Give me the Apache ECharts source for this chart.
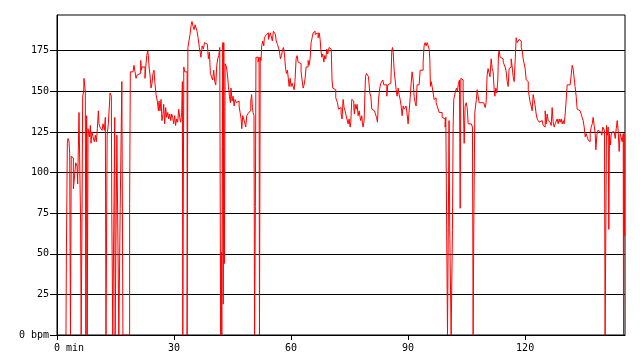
<!DOCTYPE html>
<html>
<head>
<meta charset="utf-8">
<script src="https://cdn.jsdelivr.net/npm/echarts@6/dist/echarts.min.js"></script>
<style>
  html, body { margin: 0; padding: 0; background: #fff; }
  #main { width: 640px; height: 360px; }
</style>
</head>
<body>
<div id="main"></div>
<script>
// heart rate samples: [minute, bpm]
const samples = [
  [2.3,0],[2.4,48],[2.65,118],[2.82,121],[3.08,119],[3.25,112],[3.45,0],[3.65,110],[3.93,109],[4.19,90],
  [4.44,96],[4.79,106],[5.13,104],[5.3,93],[5.47,115],[5.64,137],[6.05,69],[6.2,0],[6.41,73],[6.58,147],
  [6.84,150],[6.92,158],[7.26,150],[7.4,0],[7.6,135],[7.75,0],[7.95,127],[8.12,124],[8.3,122],[8.55,129],
  [8.72,118],[8.97,125],[9.23,122],[9.57,119],[9.83,123],[10.09,119],[10.34,127],[10.6,138],[10.77,130],[11.03,128],
  [11.28,129],[11.54,126],[11.8,130],[12.14,126],[12.39,134],[12.56,0],[12.85,123],[13.16,130],[13.42,141],[13.59,149],
  [13.93,147],[14.05,74],[14.3,0],[14.8,134],[14.9,0],[15.35,123],[15.85,0],[16.2,78],[16.62,156],[16.9,0],
  [18.62,81],[18.8,162],[19.23,162],[19.49,163],[19.74,166],[20.0,162],[20.26,158],[20.51,160],[20.94,161],[21.45,169],
  [21.62,163],[21.8,165],[22.2,165],[22.56,158],[22.75,165],[23.0,172],[23.25,175],[23.42,172],[23.6,165],[23.85,160],
  [24.1,152],[24.36,155],[24.6,161],[24.87,163],[25.1,155],[25.4,148],[25.7,144],[26.0,138],[26.15,144],[26.4,138],
  [26.67,145],[26.9,132],[27.18,136],[27.35,142],[27.6,130],[27.86,140],[28.1,134],[28.4,137],[28.63,133],[28.9,136],
  [29.15,132],[29.4,136],[29.66,134],[29.9,130],[30.17,135],[30.4,129],[30.68,133],[30.94,131],[31.2,139],[31.45,134],
  [31.7,131],[31.97,137],[32.14,156],[32.25,0],[32.5,165],[32.75,162],[33.35,0],[33.55,177],[33.94,178],[34.1,185],
  [34.4,191],[34.6,193],[34.88,190],[35.14,188],[35.4,191],[35.65,189],[35.9,187],[36.16,183],[36.5,177],[36.76,176],
  [36.9,171],[37.2,178],[37.53,176],[37.8,180],[38.05,181],[38.3,179],[38.55,180],[38.8,170],[39.07,174],[39.32,161],
  [39.6,159],[39.9,157],[40.18,163],[40.43,156],[40.7,154],[40.95,166],[41.2,170],[41.46,172],[41.72,177],[41.85,178],
  [41.95,0],[42.1,51],[42.25,0],[42.4,116],[42.5,180],[42.62,19],[42.75,180],[42.9,44],[43.1,167],[43.44,165],
  [43.7,160],[43.95,153],[44.2,147],[44.46,143],[44.6,152],[44.88,144],[45.14,147],[45.4,141],[45.65,145],[46.0,143],
  [46.33,144],[46.68,141],[46.93,137],[47.2,133],[47.36,127],[47.61,135],[47.87,133],[48.13,134],[48.38,128],[48.64,135],
  [48.9,136],[49.15,137],[49.4,138],[49.67,144],[49.9,148],[50.09,140],[50.26,137],[50.5,135],[50.65,0],[50.85,79],
  [51.0,171],[51.28,171],[51.54,168],[51.8,171],[51.9,0],[52.1,171],[52.3,169],[52.47,178],[52.74,181],[53.0,178],
  [53.17,183],[53.42,182],[53.68,185],[53.94,186],[54.2,182],[54.45,183],[54.7,186],[54.96,187],[55.2,181],[55.47,187],
  [55.7,188],[55.97,185],[56.2,181],[56.5,179],[56.76,180],[57.0,175],[57.27,170],[57.53,172],[57.78,175],[58.04,177],
  [58.3,173],[58.56,165],[58.8,161],[59.07,163],[59.33,157],[59.5,153],[59.76,158],[60.0,153],[60.27,155],[60.52,155],
  [60.78,151],[61.0,156],[61.29,170],[61.55,172],[61.8,168],[62.06,169],[62.3,167],[62.57,162],[62.83,157],[63.09,152],
  [63.35,154],[63.6,158],[63.85,165],[64.1,165],[64.37,169],[64.6,166],[64.88,170],[65.14,180],[65.4,183],[65.65,186],
  [65.9,187],[66.17,185],[66.42,185],[66.68,186],[66.94,183],[67.2,186],[67.45,182],[67.62,176],[67.87,171],[68.13,173],
  [68.4,168],[68.64,172],[68.9,170],[69.15,176],[69.4,173],[69.75,177],[70.0,176],[70.3,176],[70.5,157],[70.69,152],
  [71.12,151],[71.46,146],[71.89,143],[72.15,139],[72.4,138],[72.57,140],[72.83,136],[73.08,133],[73.34,145],[73.6,140],
  [73.85,138],[74.11,135],[74.28,134],[74.62,130],[74.88,133],[75.14,128],[75.31,131],[75.56,145],[75.82,144],[76.08,140],
  [76.25,136],[76.42,142],[76.68,139],[76.93,142],[77.19,135],[77.45,138],[77.62,135],[77.87,132],[78.13,135],[78.3,130],
  [78.47,128],[78.73,132],[79.07,159],[79.33,161],[79.58,162],[79.84,159],[80.18,149],[80.44,147],[80.7,139],[80.87,140],
  [81.12,138],[81.38,139],[81.64,136],[81.9,134],[82.15,131],[82.41,145],[82.74,152],[83.0,155],[83.26,156],[83.51,157],
  [83.77,154],[84.03,155],[84.28,154],[84.54,147],[84.8,154],[85.05,154],[85.31,155],[85.57,156],[85.82,175],[86.0,177],
  [86.16,175],[86.42,163],[86.68,157],[86.93,151],[87.19,147],[87.45,152],[87.7,148],[87.96,145],[88.22,141],[88.47,135],
  [88.73,141],[88.99,139],[89.24,140],[89.5,141],[89.75,136],[90.0,130],[90.27,138],[90.53,146],[90.78,155],[91.03,162],
  [91.29,157],[91.54,147],[91.8,143],[92.06,141],[92.3,154],[92.57,154],[92.83,155],[93.09,163],[93.34,163],[93.6,163],
  [93.85,168],[94.1,178],[94.37,180],[94.62,178],[94.88,180],[95.14,178],[95.4,176],[95.56,170],[95.73,153],[95.9,156],
  [96.16,153],[96.42,149],[96.67,145],[96.93,146],[97.19,143],[97.44,141],[97.7,139],[97.96,137],[98.2,136],[98.47,137],
  [98.73,134],[98.98,134],[99.24,133],[99.5,128],[99.67,134],[99.93,133],[100.1,0],[100.5,132],[100.67,66],[101.03,0],
  [101.37,65],[101.54,128],[101.7,145],[102.14,150],[102.4,152],[102.65,150],[102.9,155],[103.17,157],[103.35,78],[103.52,158],
  [103.77,157],[104.1,150],[104.37,118],[104.62,141],[104.9,143],[105.14,140],[105.4,130],[105.65,129],[105.9,130],[106.2,129],
  [106.5,128],[106.67,0],[106.84,67],[107.1,137],[107.5,145],[107.7,151],[107.95,152],[108.2,143],[109.4,142],[109.75,140],
  [110.0,143],[110.26,160],[110.5,164],[110.78,163],[111.0,159],[111.29,170],[111.55,164],[111.8,162],[112.06,151],[112.23,147],
  [112.49,152],[112.74,149],[113.0,157],[113.17,173],[113.34,175],[113.6,171],[113.85,172],[114.1,170],[114.37,168],[114.6,167],
  [114.88,165],[115.14,162],[115.4,156],[115.65,153],[115.9,164],[116.16,165],[116.42,170],[116.68,165],[116.93,159],[117.19,156],
  [117.45,169],[117.7,183],[117.97,180],[118.2,179],[118.48,182],[118.73,181],[119.0,177],[119.25,175],[119.5,170],[119.77,169],
  [120.0,164],[120.28,157],[120.53,156],[120.8,151],[121.04,147],[121.3,143],[121.55,141],[121.8,138],[122.06,148],[122.3,145],
  [122.57,141],[122.83,136],[123.09,133],[123.35,134],[123.6,131],[123.86,130],[124.1,132],[124.37,131],[124.62,129],[124.88,128],
  [125.14,138],[125.4,130],[125.65,136],[125.9,132],[126.16,131],[126.42,130],[126.68,129],[126.93,140],[127.19,131],[127.45,128],
  [127.7,130],[127.96,131],[128.2,133],[128.47,130],[128.73,133],[128.98,131],[129.24,133],[129.5,130],[129.75,132],[130.0,130],
  [130.27,136],[130.53,145],[130.78,154],[131.55,154],[131.8,160],[132.06,166],[132.3,164],[132.57,164],[132.8,153],[133.08,147],
  [133.34,139],[133.6,138],[133.85,138],[134.1,137],[134.37,136],[134.6,134],[134.88,132],[135.14,128],[135.4,122],[135.65,124],
  [135.9,122],[136.16,120],[136.42,119],[136.68,124],[136.93,128],[137.2,130],[137.44,134],[137.7,129],[137.96,124],[138.13,114],
  [138.38,123],[138.64,126],[138.9,126],[139.15,125],[139.4,125],[139.66,123],[139.9,128],[140.17,129],[140.34,126],[140.5,0],
  [140.86,129],[141.12,123],[141.3,128],[141.45,65],[141.62,124],[141.87,117],[142.04,123],[142.3,125],[142.57,125],[142.83,124],
  [143.1,121],[143.35,127],[143.6,132],[143.85,126],[144.1,113],[144.36,124],[144.6,122],[144.87,119],[145.14,124],[145.22,0],
  [145.35,124],[145.5,61]
];

const yTicks = [0, 25, 50, 75, 100, 125, 150, 175];
const xTicks = [0, 30, 60, 90, 120];

const chart = echarts.init(document.getElementById('main'));

const labelFont = {
  color: '#000',
  fontFamily: 'DejaVu Sans Mono',
  fontSize: 10
};

chart.setOption({
  animation: false,
  backgroundColor: '#fff',
  grid: {
    left: 57, right: 15, top: 15, bottom: 25,
    show: true, borderColor: '#000', borderWidth: 1
  },
  xAxis: {
    type: 'value',
    min: 0,
    max: 145.6,
    interval: 30,
    z: 3,
    axisLine: { lineStyle: { color: '#000', width: 1 } },
    axisTick: { customValues: xTicks, length: 5, lineStyle: { color: '#000' } },
    axisLabel: Object.assign({
      customValues: xTicks,
      margin: 8,
      formatter: v => v === 0 ? '    0 min' : String(v)
    }, labelFont),
    splitLine: { show: false }
  },
  yAxis: {
    type: 'value',
    min: 0,
    max: 197,
    interval: 25,
    axisLine: { show: true, lineStyle: { color: '#000', width: 1 } },
    axisTick: { show: true, customValues: yTicks, length: 7, lineStyle: { color: '#000' } },
    axisLabel: Object.assign({
      customValues: yTicks,
      margin: 8,
      formatter: v => v === 0 ? '0 bpm' : String(v)
    }, labelFont),
    splitLine: { show: true, lineStyle: { color: '#000', width: 1 } }
  },
  series: [{
    name: 'Heart rate',
    type: 'line',
    data: samples,
    step: 'end',
    symbol: 'none',
    lineStyle: { color: '#ff0000', width: 1 },
    itemStyle: { color: '#ff0000' }
  }]
});
</script>
</body>
</html>
